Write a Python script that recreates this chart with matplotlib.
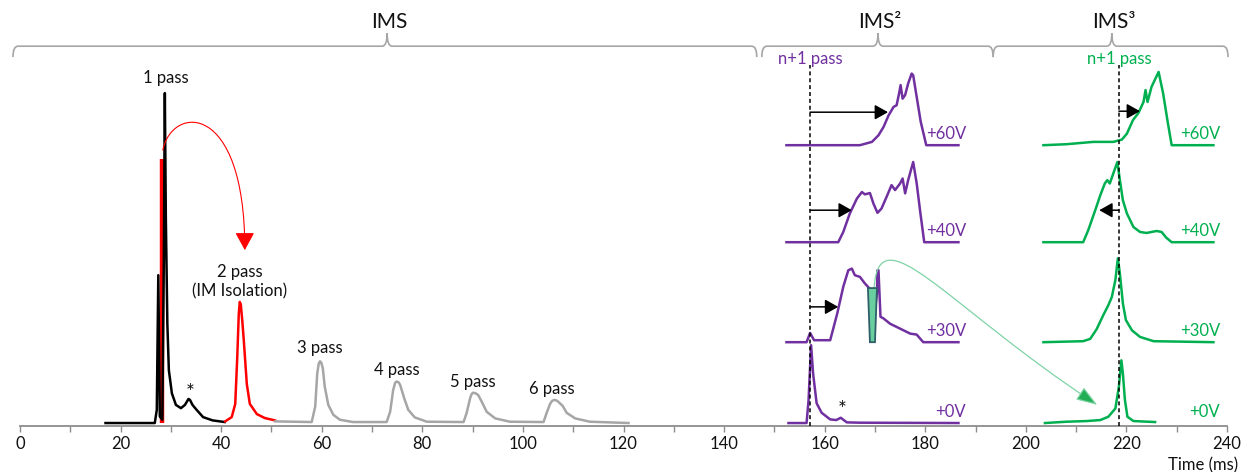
import numpy as np
import matplotlib
matplotlib.use("Agg")
import matplotlib.pyplot as plt
from matplotlib.path import Path
from matplotlib.patches import FancyArrowPatch, Polygon, PathPatch

plt.rcParams['font.family'] = ['Lato', 'DejaVu Sans']

# time in ms, intensity in arbitrary units (1 pass apex = 100)
pass1_t = [17.0, 26.8, 27.2, 27.5, 27.8, 28.3, 28.6, 28.8, 29.0, 29.3, 29.6, 30.2, 31.0,
           32.0, 32.8, 33.5, 33.8, 34.3, 35.0, 36.4, 38.3, 40.7]
pass1_y = [0, 0, 4, 44.8, 2, 1, 50, 100, 62, 30, 16, 9, 5.5,
           4.5, 5.5, 7.3, 7.0, 5.5, 4.2, 1.8, 0.8, 0.3]

isolation_t = [28.3, 28.3]
isolation_y = [0, 80]

pass2_t = [40.8, 42.1, 42.8, 43.2, 43.5, 43.7, 43.9, 44.2, 44.5, 45.1, 45.7, 47.1, 48.7, 50.7]
pass2_y = [0.5, 1.8, 5.8, 20, 33, 36.7, 36, 31, 25, 11.8, 5.8, 2.7, 1.5, 0.8]

passes_t = [50.7, 58.0, 58.7, 59.1, 59.4, 59.65, 59.9, 60.2, 60.6, 61.3, 62.3, 63.6, 66.2,
            72.9, 73.6, 74.2, 74.6, 74.9, 75.3, 75.6, 76.4, 77.2, 78.5, 80.9,
            88.2, 88.8, 89.5, 89.8, 90.1, 90.6, 91.1, 91.8, 92.8, 94.5, 97.4,
            104.1, 104.7, 105.4, 105.8, 106.2, 106.6, 107.0, 107.9, 108.7, 110.4, 113.3, 121.0]
passes_y = [0.5, 0.3, 5, 15, 18, 18.7, 18.3, 16.7, 11, 5.5, 2.5, 1, 0.3,
            0.3, 3.4, 10, 12.2, 12.6, 12.3, 11.5, 7.5, 4, 1.7, 0.4,
            0.3, 3, 7.5, 8.8, 9.2, 9.0, 8.5, 6.5, 3.4, 1.4, 0.4,
            0.3, 3, 5.8, 6.7, 7, 6.9, 6.5, 5.2, 3.1, 1.4, 0.4, 0]

pass_labels = ['1 pass', '2 pass\n(IM Isolation)', '3 pass', '4 pass', '5 pass', '6 pass']
pass_label_t = [29.0, 43.7, 59.7, 75.0, 90.1, 105.8]
pass_label_y = [104.5, 42.8, 22.7, 16.1, 12.4, 10.3]

voltages = ['+0V', '+30V', '+40V', '+60V']
stack_offsets = [0, 24.5, 54.8, 84.2]

# IMS2 (purple) traces
ims2_0_t = [152.8, 156.4, 156.8, 157.3, 157.7, 158.4, 159.4, 161.1, 162.3, 163.2, 164.4, 167.0, 186.6]
ims2_0_y = [0, 0, 7, 23.6, 15, 6, 3.1, 1.1, 0.9, 1.6, 0.2, 0.1, 0]
ims2_30_t = [152.4, 156.4, 157.1, 157.9, 161.1, 162.5, 163.7, 164.7, 165.4, 166.0, 167.0, 168.0,
             168.9, 169.7, 170.4, 170.5, 170.7, 171.1, 171.7, 173.0, 175.0, 177.0, 178.3, 179.6, 186.6]
ims2_30_y = [0, 0, 2.8, 0.6, 0.6, 8.7, 16.8, 21.8, 22.3, 20.3, 19.8, 17.8,
             16.3, 5.7, 15, 21.8, 21.8, 7.7, 7.2, 5.6, 4.1, 2.6, 2.3, 0, 0]
ims2_40_t = [152.4, 162.7, 163.7, 165.0, 166.4, 167.4, 168.0, 169.0, 169.7, 170.5, 171.3, 172.3,
             173.3, 174.0, 175.0, 175.5, 176.0, 176.6, 177.6, 178.3, 179.0, 179.8, 186.6]
ims2_40_y = [0, 0, 3.1, 8.7, 13.2, 15.2, 14.5, 14.9, 11.7, 8.9, 10.2, 13.7,
             17.3, 15.8, 17.8, 19.3, 14.8, 18.8, 24.3, 17.8, 9.2, 0, 0]
ims2_60_t = [152.4, 167.0, 169.4, 170.7, 171.7, 172.7, 173.7, 174.3, 174.8, 175.1, 175.5, 176.0,
             176.6, 177.3, 177.6, 178.3, 179.1, 180.2, 186.6]
ims2_60_y = [0, 0, 1, 3, 5.5, 9, 11.6, 12.1, 15.7, 18.2, 14.1, 15.2,
             18.7, 21.7, 21.2, 14.6, 7.1, 0, 0]

# IMS3 (green) traces
ims3_0_t = [203.8, 208.1, 212.1, 214.8, 216.4, 217.8, 218.5, 219.0, 219.3, 219.7, 220.2, 221.4, 225.7]
ims3_0_y = [0, 0.4, 0.6, 0.9, 1.9, 4.4, 11, 19, 15, 7, 1.9, 0.6, 0.3]
ims3_30_t = [203.5, 211.4, 212.8, 214.1, 215.4, 216.4, 217.1, 217.8, 218.3, 218.7, 219.3, 219.9,
             221.1, 222.7, 225.4, 237.3]
ims3_30_y = [0, 0.3, 1, 4, 8.2, 11.2, 13.7, 18.8, 25.4, 20.8, 11.7, 6.7, 3.6, 1.6, 0.3, 0]
ims3_40_t = [203.5, 211.4, 212.4, 213.8, 214.8, 215.7, 216.2, 216.7, 217.5, 218.2, 218.7, 219.3,
             220.1, 221.4, 222.7, 224.0, 226.0, 227.0, 227.9, 229.0, 237.3]
ims3_40_y = [0, 0, 3.6, 9.7, 14.2, 17.8, 18.8, 17.8, 21.3, 24.3, 18.8, 12.7,
             8.7, 4.6, 3.1, 2.8, 3.4, 3.1, 1.4, 0, 0]
ims3_60_t = [203.5, 208.1, 213.4, 217.4, 219.1, 220.1, 221.3, 222.4, 223.4, 223.8, 224.2, 225.0,
             226.4, 227.3, 228.2, 229.0, 237.3]
ims3_60_y = [0, 0.3, 1, 1, 1.7, 3.5, 7.6, 9.8, 13.1, 16.7, 13.1, 17.7,
             22.2, 15.7, 7.1, 0, 0]

ims2_ref_t = 157.1     # n+1 pass drift time, IMS2
ims3_ref_t = 218.5     # n+1 pass drift time, IMS3
ims2_shift_tip = [162.7, 165.4, 172.6]   # +30V, +40V, +60V
ims2_shift_h = [10.7, 9.7, 10.0]
ims3_shift_tip = [214.6, 222.7]          # +40V, +60V
ims3_shift_h = [9.7, 10.3]

cut_window = [168.6, 170.4, 169.0, 170.0]  # top left/right, bottom left/right

purple = '#7030A0'
green = '#00B050'
red = '#FF0000'
gray = '#A6A6A6'
axis_gray = '#8C8C8C'
txt = '#111111'

fig = plt.figure(figsize=(12.43, 4.72), dpi=100)
ax = fig.add_axes([20 / 1243, 46 / 472, 1207 / 1243, 426 / 472])
ax.set_xlim(0, 240)
ax.set_ylim(-0.9, 128.2)

lw = 1.8
ax.plot(isolation_t, isolation_y, color=red, lw=3.2, zorder=2, solid_capstyle='butt')
ax.plot(pass1_t, pass1_y, color='black', lw=lw, zorder=3)
ax.plot(pass2_t, pass2_y, color=red, lw=lw, zorder=3)
ax.plot(passes_t, passes_y, color=gray, lw=lw, zorder=3)

for t, y, lab in zip(pass_label_t, pass_label_y, pass_labels):
    ax.text(t, y, lab, ha='center', va='center', fontsize=12, color=txt,
            linespacing=1.2)
ax.text(33.8, 9.2, '*', ha='center', va='center', fontsize=15, color=txt)
ax.text(163.5, 3.8, '*', ha='center', va='center', fontsize=15, color=txt)

ims2 = [(ims2_0_t, ims2_0_y), (ims2_30_t, ims2_30_y), (ims2_40_t, ims2_40_y), (ims2_60_t, ims2_60_y)]
ims3 = [(ims3_0_t, ims3_0_y), (ims3_30_t, ims3_30_y), (ims3_40_t, ims3_40_y), (ims3_60_t, ims3_60_y)]

for (t, y), off, v in zip(ims2, stack_offsets, voltages):
    ax.plot(t, np.array(y) + off, color=purple, lw=lw, zorder=3)
    ax.text(188.1, off + 3.4, v, ha='right', va='center', fontsize=12, color=purple)
for (t, y), off, v in zip(ims3, stack_offsets, voltages):
    ax.plot(t, np.array(y) + off, color=green, lw=lw, zorder=3)
    ax.text(238.6, off + 3.4, v, ha='right', va='center', fontsize=12, color=green)

# n+1 pass reference lines
for xr, col in [(ims2_ref_t, purple), (ims3_ref_t, green)]:
    ax.plot([xr, xr], [-0.9, 108.5], color='black', lw=1.1, dashes=(2.6, 1.9), zorder=4)
    ax.text(xr, 110.2, 'n+1 pass', ha='center', va='center', fontsize=12, color=col)

# shift arrows
for tip, h, off in zip(ims2_shift_tip, ims2_shift_h, stack_offsets[1:]):
    ax.annotate('', xy=(tip, off + h), xytext=(ims2_ref_t, off + h),
                arrowprops=dict(arrowstyle='-|>,head_length=0.8,head_width=0.45', color='black',
                                lw=1.1, shrinkA=0, shrinkB=0, mutation_scale=10), zorder=5)
for tip, h, off in zip(ims3_shift_tip, ims3_shift_h, stack_offsets[2:]):
    ax.annotate('', xy=(tip, off + h), xytext=(ims3_ref_t, off + h),
                arrowprops=dict(arrowstyle='-|>,head_length=0.8,head_width=0.45', color='black',
                                lw=1.1, shrinkA=0, shrinkB=0, mutation_scale=10), zorder=5)

# isolated slice of the +30V IMS2 trace
off30 = stack_offsets[1]
cut = Polygon([(cut_window[0], off30 + 16.4), (cut_window[1], off30 + 16.4),
               (cut_window[3], off30), (cut_window[2], off30)],
              closed=True, facecolor='#6ACF9E', edgecolor='#2F5F6A', lw=1.3, zorder=6)
ax.add_patch(cut)

# red isolation arrow
red_path = Path([(28.4, 82.7), (30.2, 96.4), (44.7, 97.9), (44.7, 52.4)],
                [Path.MOVETO, Path.CURVE4, Path.CURVE4, Path.CURVE4])
ax.add_patch(FancyArrowPatch(path=red_path, arrowstyle='-|>,head_length=1.1,head_width=0.6',
                             mutation_scale=10, color=red, lw=0.8, zorder=5))

# green transfer arrow
green_path = Path([(169.8, 40.3), (170.6, 64.5), (183.9, 35.8), (214.2, 5.5)],
                  [Path.MOVETO, Path.CURVE4, Path.CURVE4, Path.CURVE4])
ax.add_patch(FancyArrowPatch(path=green_path, arrowstyle='-|>,head_length=1.3,head_width=0.45',
                             mutation_scale=10, facecolor='#22AE55', edgecolor='#7FD3A6',
                             lw=0.9, zorder=5))


def brace(x0, x1, xc, label, y=114.2, drop=3.3, rise=3.9, dx=1.0):
    verts = [(x0, y - drop), (x0, y), (x0 + dx, y),
             (xc - dx, y), (xc, y), (xc, y + rise),
             (xc, y), (xc + dx, y),
             (x1 - dx, y), (x1, y), (x1, y - drop)]
    codes = [Path.MOVETO, Path.CURVE3, Path.CURVE3,
             Path.LINETO, Path.CURVE3, Path.CURVE3,
             Path.CURVE3, Path.CURVE3,
             Path.LINETO, Path.CURVE3, Path.CURVE3]
    ax.add_patch(PathPatch(Path(verts, codes), facecolor='none', edgecolor=gray,
                           lw=1.2, clip_on=False))
    ax.text(xc + 0.4, 121.6, label, ha='center', va='center', fontsize=15, color=txt)


brace(-1.4, 146.5, 73.0, 'IMS')
brace(147.5, 193.5, 170.6, 'IMS²')
brace(193.5, 240.2, 217.1, 'IMS³')

# axis styling
for s in ['left', 'right', 'top']:
    ax.spines[s].set_visible(False)
ax.spines['bottom'].set_color(axis_gray)
ax.spines['bottom'].set_linewidth(1.3)
ax.set_yticks([])
ax.set_xticks(np.arange(0, 241, 20))
ax.set_xticks(np.arange(0, 241, 10), minor=True)
ax.tick_params(axis='x', which='both', direction='out', length=4, width=1,
               color=axis_gray, labelsize=12, pad=3.5, labelcolor=txt)
ax.patch.set_visible(False)

fig.text(1238 / 1243, 1 - 465 / 472, 'Time (ms)', ha='right', va='center',
         fontsize=12, color=txt)

fig.savefig('out.png', dpi=100)
